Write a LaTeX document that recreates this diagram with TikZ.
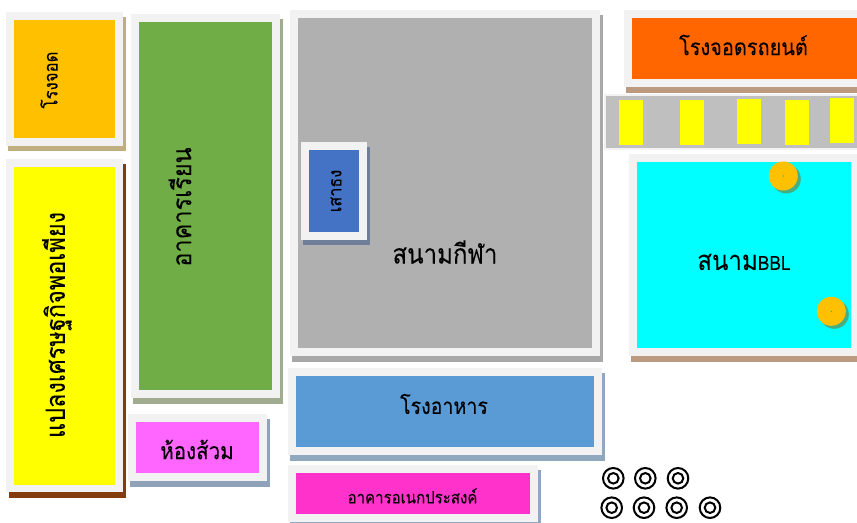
\documentclass[tikz,border=0pt]{standalone}
\usepackage{fontspec}
\newfontfamily\thaifont[Script=Thai,FakeStretch=0.88,FakeBold=0.03]{Loma}
\definecolor{frameC}{HTML}{F2F2F2}
\definecolor{shTan}{HTML}{BFAE80}
\definecolor{shSage}{HTML}{A0AB90}
\definecolor{shBrown}{HTML}{843C0C}
\definecolor{shSlate}{HTML}{8FA2BA}
\definecolor{shGray}{HTML}{A8A8A8}
\definecolor{shBlue}{HTML}{8FA7BF}
\definecolor{shFlag}{HTML}{6F7F9A}
\definecolor{shSand}{HTML}{BC9A80}
\definecolor{shTeal}{HTML}{45AE85}
\definecolor{cAmber}{HTML}{FFC000}
\definecolor{cGreen}{HTML}{70AD47}
\definecolor{cYellow}{HTML}{FFFF00}
\definecolor{cViolet}{HTML}{FF66FF}
\definecolor{cField}{HTML}{B0B0B0}
\definecolor{cCanteen}{HTML}{5B9BD5}
\definecolor{cPink}{HTML}{FF33CC}
\definecolor{cFlag}{HTML}{4472C4}
\definecolor{cOrange}{HTML}{FF6600}
\definecolor{cCyan}{HTML}{00FFFF}
\definecolor{cLot}{HTML}{BFBFBF}
\tikzset{x=0.75pt,y=-0.75pt,
  lbl/.style={inner sep=0pt,font=\thaifont,text=black},
  ring/.style={draw=black,line width=1.5pt,fill=none},
  bay/.style={fill=cYellow}}
% #1 shadow colour, #2 shadow corners, #3 outer corners, #4 fill colour, #5 inner corners
\newcommand{\plate}[5]{%
  \fill[#1] #2;\fill[frameC] #3;\fill[#4] #5;}
\newcommand{\target}[2]{%
  \draw[ring] (#1,#2) circle[radius=10.3];\draw[ring] (#1,#2) circle[radius=5.3];}
\newcommand{\disc}[2]{%
  \fill[shTeal] (#1+3,#2+3) circle[radius=14.5];
  \fill[cAmber] (#1,#2) circle[radius=14.5];
  \fill[shTeal] (#1,#2) circle[radius=0.7];}
\begin{document}
\begin{tikzpicture}
\useasboundingbox (0,0) rectangle (857,523);
\clip (0,0) rectangle (857,523);
\fill[white] (0,0) rectangle (857,523);
% parking
\fill[frameC] (604,94) rectangle (857,150);
\fill[cLot] (606,96) rectangle (857,148);
\fill[bay] (619,100) rectangle (643,145.3);
\fill[bay] (680,99.7) rectangle (704,145);
\fill[bay] (737,98.7) rectangle (761,144);
\fill[bay] (785,99.7) rectangle (809,145);
\fill[bay] (830,98.3) rectangle (854,143.3);
% plates
\plate{shTan}{(8,17) rectangle (126,151)}{(6,12) rectangle (123,146)}{cAmber}{(14,20) rectangle (115,137.7)}
\plate{shBrown}{(9,164) rectangle (125.5,498)}{(6,159) rectangle (123,492)}{cYellow}{(14,167) rectangle (115,485)}
\plate{shSage}{(133,19) rectangle (283,404)}{(131,14) rectangle (280,398)}{cGreen}{(139,22) rectangle (272,390)}
\plate{shSlate}{(130,419) rectangle (270,487)}{(128,414) rectangle (267,481)}{cViolet}{(136,422) rectangle (259,473.5)}
\plate{shGray}{(292,15) rectangle (603,362)}{(290,10) rectangle (600,356)}{cField}{(298,18) rectangle (592,348)}
\plate{shFlag}{(303,147) rectangle (370,245)}{(301,142) rectangle (367,240)}{cFlag}{(309,150) rectangle (359,231.7)}
\plate{shBlue}{(289.5,373) rectangle (605,461)}{(287.5,368) rectangle (602,455)}{cCanteen}{(295.5,376) rectangle (594,447)}
\plate{shBlue}{(290,470) rectangle (541,525)}{(288,465) rectangle (538,522)}{cPink}{(296,473.5) rectangle (530,514.5)}
\plate{shSand}{(626,15) rectangle (857,93)}{(624,10) rectangle (857,87)}{cOrange}{(632,18) rectangle (857,79)}
\plate{shSand}{(631,159) rectangle (857,361.7)}{(629,154) rectangle (857,356)}{cCyan}{(637,162) rectangle (851,348)}
% discs
\disc{783.3}{176}
\disc{831.3}{311.3}
% targets
\target{613.3}{478.3}\target{645.3}{478.3}\target{678}{478.3}
\target{611.7}{507.7}\target{644}{507.7}\target{676.7}{507.7}\target{710}{507.7}
% labels
\node[lbl,rotate=90,font=\thaifont\fontsize{14.3}{14}\selectfont] (parkA) at (49,80) {โรงจอด};
\node[lbl,rotate=90,font=\thaifont\fontsize{20}{20}\selectfont] (farm) at (57,325) {แปลงเศรษฐกิจพอเพียง};
\node[lbl,rotate=90,font=\thaifont\fontsize{20}{20}\selectfont] (school) at (180,207) {อาคารเรียน};
\node[lbl,font=\thaifont\fontsize{17.5}{17}\selectfont] (wc) at (197,449.5) {ห้องส้วม};
\node[lbl,rotate=90,font=\thaifont\fontsize{13.8}{14}\selectfont] (flag) at (336,191) {เสาธง};
\node[lbl,font=\thaifont\fontsize{20.5}{20}\selectfont] (field) at (445,252) {สนามกีฬา};
\node[lbl,font=\thaifont\fontsize{16.7}{17}\selectfont] (canteen) at (444,404) {โรงอาหาร};
\node[lbl,font=\thaifont\fontsize{12.8}{13}\selectfont] (hall) at (412.5,496) {อาคารอเนกประสงค์};
\node[lbl,font=\thaifont\fontsize{17}{17}\selectfont] (parkB) at (743.5,45) {โรงจอดรถยนต์};
\node[lbl,font=\thaifont\fontsize{20.5}{20}\selectfont] (bbl) at (744,262) {สนาม{\fontsize{14.8}{15}\selectfont BBL}};
\end{tikzpicture}
\end{document}
